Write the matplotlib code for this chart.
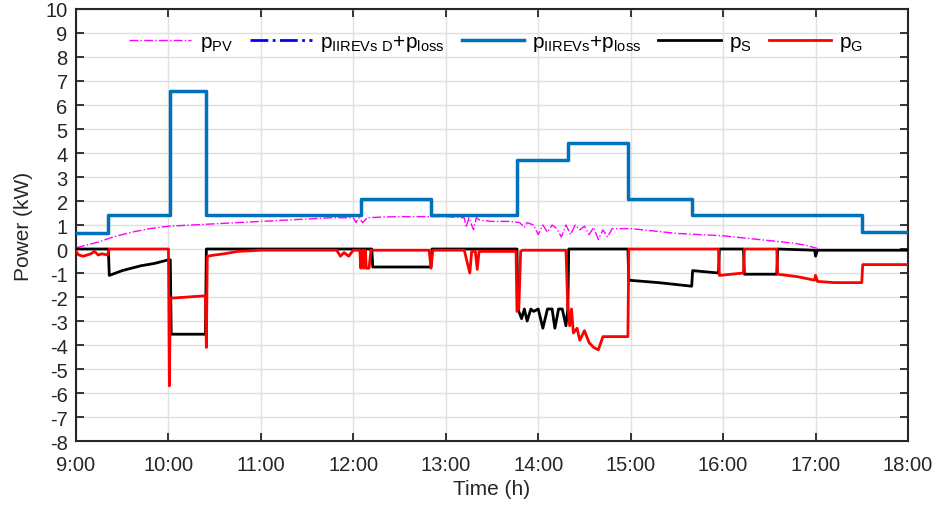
import matplotlib.pyplot as plt

plt.rcParams['font.family'] = ['Liberation Sans', 'DejaVu Sans']
plt.rcParams['axes.unicode_minus'] = False

# datos (tiempo en horas decimales, potencia en kW)
t_ev = [9.0, 9.35, 9.35, 10.02, 10.02, 10.41, 10.41, 12.08, 12.08, 12.84, 12.84, 13.77,
        13.77, 14.32, 14.32, 14.97, 14.97, 15.66, 15.66, 17.5, 17.5, 18.0]
p_ev = [0.65, 0.65, 1.4, 1.4, 6.6, 6.6, 1.4, 1.4, 2.1, 2.1, 1.4, 1.4,
        3.7, 3.7, 4.4, 4.4, 2.1, 2.1, 1.4, 1.4, 0.7, 0.7]

t_pv = [9.0, 9.1, 9.25, 9.4, 9.6, 9.8, 10.0, 10.25, 10.5, 10.75, 11.0, 11.25, 11.5, 11.75,
        12.0, 12.03, 12.06, 12.1, 12.15, 12.3, 12.5, 12.75, 13.0, 13.2, 13.22, 13.25, 13.3,
        13.33, 13.37, 13.5, 13.7, 13.8, 13.85, 13.88, 13.95, 14.0, 14.05, 14.1, 14.15, 14.2,
        14.25, 14.3, 14.35, 14.4, 14.45, 14.5, 14.55, 14.6, 14.65, 14.7, 14.75, 14.8, 15.0,
        15.25, 15.5, 15.75, 16.0, 16.25, 16.5, 16.75, 16.9, 17.02]
p_pv = [0.05, 0.15, 0.3, 0.5, 0.7, 0.85, 0.95, 1.0, 1.05, 1.1, 1.15, 1.2, 1.25, 1.3,
        1.3, 1.1, 1.3, 1.1, 1.3, 1.33, 1.35, 1.35, 1.35, 1.3, 0.9, 1.3, 0.8, 1.3, 1.2,
        1.15, 1.15, 1.1, 0.9, 1.1, 1.0, 0.6, 1.0, 0.7, 1.0, 0.85, 0.5, 1.0, 0.6, 1.0,
        0.8, 0.95, 0.6, 0.9, 0.4, 0.8, 0.5, 0.85, 0.85, 0.75, 0.65, 0.6, 0.55, 0.45,
        0.35, 0.25, 0.15, 0.02]

t_s = [9.0, 9.35, 9.36, 9.5, 9.7, 9.85, 10.0, 10.02, 10.03, 10.4, 10.41, 12.08, 12.2, 12.21,
       12.84, 12.85, 13.77, 13.78, 13.82, 13.85, 13.88, 13.92, 13.95, 14.0, 14.05, 14.1,
       14.15, 14.18, 14.22, 14.26, 14.3, 14.32, 14.33, 14.97, 14.98, 15.3, 15.66, 15.67,
       15.95, 15.96, 16.22, 16.23, 16.58, 16.59, 16.99, 17.0, 17.02, 18.0]
p_s = [0.0, 0.0, -1.1, -0.9, -0.7, -0.6, -0.45, -0.45, -3.55, -3.55, 0.0, 0.0, 0.0, -0.75,
       -0.75, 0.0, 0.0, -2.5, -2.9, -2.5, -3.0, -2.5, -2.6, -2.5, -3.3, -2.5, -2.5,
       -3.3, -2.5, -2.5, -3.2, -2.5, 0.0, 0.0, -1.3, -1.4, -1.55, -0.9, -1.0, 0.0, 0.0,
       -1.05, -1.05, 0.0, -0.05, -0.3, -0.05, -0.05]

t_g = [9.0, 9.03, 9.08, 9.12, 9.16, 9.2, 9.24, 9.28, 9.34, 9.36, 10.0, 10.01, 10.02, 10.4,
       10.41, 10.42, 10.5, 10.6, 10.75, 11.0, 11.5, 11.82, 11.86, 11.9, 11.95, 12.0, 12.07,
       12.08, 12.1, 12.11, 12.13, 12.14, 12.17, 12.19, 12.22, 12.5, 12.82, 12.84, 12.86,
       13.2, 13.26, 13.28, 13.32, 13.34, 13.36, 13.76, 13.77, 13.79, 13.81, 13.83, 14.3,
       14.32, 14.34, 14.36, 14.38, 14.42, 14.45, 14.5, 14.55, 14.6, 14.65, 14.7, 14.75,
       14.97, 14.98, 15.95, 15.96, 16.22, 16.23, 16.58, 16.59, 16.8, 16.99, 17.0, 17.02,
       17.2, 17.4, 17.5, 17.51, 18.0]
p_g = [-0.1, -0.25, -0.3, -0.25, -0.2, -0.1, -0.25, -0.2, -0.25, 0.0, 0.0, -5.7, -2.05, -1.95,
       -4.1, -0.3, -0.25, -0.2, -0.1, -0.05, -0.05, -0.05, -0.3, -0.15, -0.3, -0.05, -0.05,
       -0.8, -0.05, -0.8, -0.05, -0.8, -0.8, -0.05, -0.05, -0.05, -0.05, -0.8, -0.05,
       -0.05, -1.0, -0.1, -0.1, -0.85, -0.1, -0.1, -2.6, -2.5, -0.1, -0.05, -0.05,
       -2.4, -3.2, -2.5, -3.5, -3.3, -3.8, -3.4, -3.9, -4.1, -4.2, -3.65, -3.65,
       -3.65, 0.0, 0.0, -1.1, -1.0, 0.0, 0.0, -1.05, -1.15, -1.3, -1.1, -1.35,
       -1.4, -1.4, -1.4, -0.65, -0.65]

horas = [9, 10, 11, 12, 13, 14, 15, 16, 17, 18]
etiquetas = ['%d:00' % h for h in horas]

fig = plt.figure(figsize=(9.36, 5.1), dpi=100)
ax = fig.add_axes([0.0812, 0.1333, 0.8889, 0.8471])

ax.plot(t_pv, p_pv, color='#FF00FF', lw=1, ls='-.', label='p$_{\\mathregular{PV}}$', zorder=3)
ax.plot(t_ev, p_ev, color='#0000FF', lw=2, ls='-.', label='p$_{\\mathregular{IIREVs\\ D}}$+p$_{\\mathregular{loss}}$', zorder=2)
ax.plot(t_ev, p_ev, color='#0072BD', lw=2.5, label='p$_{\\mathregular{IIREVs}}$+p$_{\\mathregular{loss}}$', zorder=4)
ax.plot(t_s, p_s, color='black', lw=2, label='p$_{\\mathregular{S}}$', zorder=4)
ax.plot(t_g, p_g, color='#FF0000', lw=2, label='p$_{\\mathregular{G}}$', zorder=5)

ax.set_xlim(9, 18)
ax.set_ylim(-8, 10)
ax.set_xticks(horas)
ax.set_xticklabels(etiquetas)
ax.set_yticks(range(-8, 11))
ax.tick_params(direction='in', length=6, labelsize=14.5, right=True, top=True, width=1.3,
               colors='#262626', pad=6)
ax.tick_params(axis='x', pad=10)
ax.grid(True, color='#E0E0E0', lw=1)
ax.set_axisbelow(True)
for s in ax.spines.values():
    s.set_linewidth(1.5)
    s.set_color('#262626')
ax.set_xlabel('Time (h)', fontsize=15, labelpad=4, color='#262626')
ax.set_ylabel('Power (kW)', fontsize=15, labelpad=9, color='#262626')

ax.legend(loc='upper center', bbox_to_anchor=(0.505, 0.99), ncol=5, frameon=False,
          fontsize=15, handlelength=3.0, columnspacing=0.8, handletextpad=0.4)

plt.savefig('out.png', dpi=100)
